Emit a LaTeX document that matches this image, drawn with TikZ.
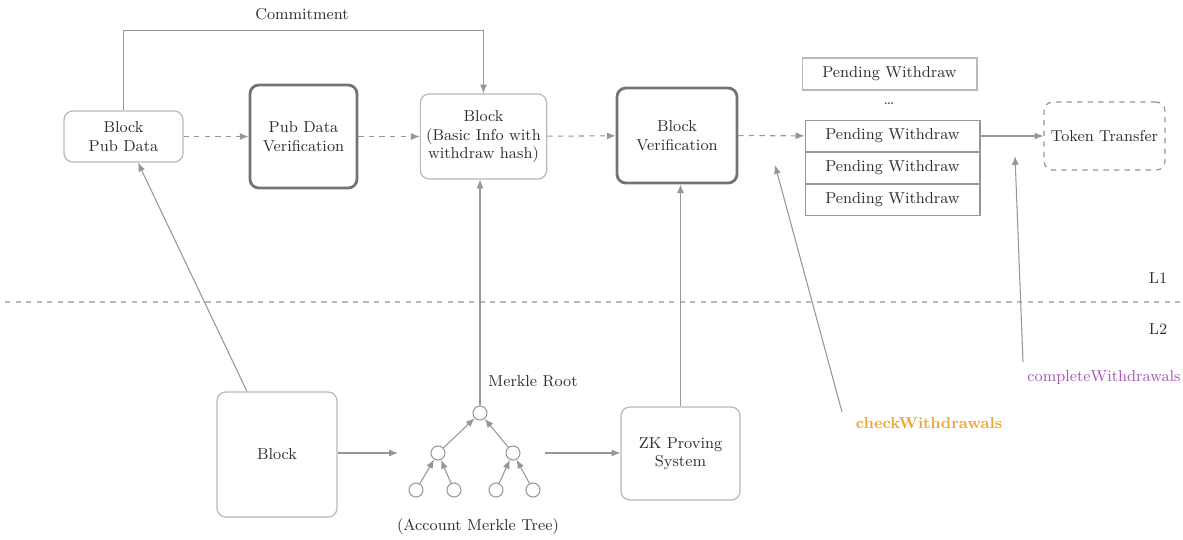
\documentclass[tikz,border=0pt]{standalone}
\usetikzlibrary{arrows.meta,positioning}
\definecolor{linegray}{RGB}{150,150,150}
\definecolor{boxgray}{RGB}{185,185,185}
\definecolor{thickgray}{RGB}{115,115,115}
\definecolor{txtgray}{RGB}{45,45,45}
\definecolor{chkorange}{RGB}{240,165,50}
\definecolor{cmppurple}{RGB}{165,85,180}
\tikzset{
  box/.style={draw=boxgray,rounded corners=5pt,align=center,text=txtgray,line width=0.7pt},
  thickbox/.style={draw=thickgray,rounded corners=5pt,align=center,text=txtgray,line width=1.6pt},
  pwbox/.style={draw=linegray,text=txtgray,minimum width=3.5cm,line width=0.6pt},
  leaf/.style={circle,draw=linegray,fill=white,minimum size=0.28cm,inner sep=0pt,line width=0.6pt},
  arr/.style={->,draw=linegray,line width=0.6pt},
  darr/.style={->,draw=linegray,dashed,line width=0.6pt},
  lbl/.style={text=txtgray}
}
\begin{document}
\begin{tikzpicture}[x=0.02cm,y=-0.02cm,>={Latex[length=5pt,width=4pt]},font=\fontsize{9}{10.5}\selectfont]
\useasboundingbox (0,0) rectangle (1183,539);
% L1 row
\node[box,minimum width=2.38cm,minimum height=1.02cm] (pubdata) at (123.5,136.5) {Block\\Pub Data};
\node[thickbox,minimum width=2.14cm,minimum height=2.06cm] (pdverif) at (303.5,136.5) {Pub Data\\Verification};
\node[box,minimum width=2.42cm,minimum height=1.7cm] (blk) at (483.5,136.5) {Block\\(Basic Info with\\withdraw hash)};
\node[thickbox,minimum width=2.4cm,minimum height=1.9cm] (bverif) at (677,135.5) {Block\\Verification};
\node[pwbox,draw=boxgray,minimum height=0.64cm] (pwtop) at (889.5,74) {Pending Withdraw};
\node[lbl] (dots) at (889,104) {\dots};
\node[pwbox,minimum height=0.62cm] (pw1) at (892.5,136) {Pending Withdraw};
\node[pwbox,minimum height=0.62cm,below=0pt of pw1] (pw2) {Pending Withdraw};
\node[pwbox,minimum height=0.62cm,below=0pt of pw2] (pw3) {Pending Withdraw};
\node[box,draw=linegray,dashed,minimum width=2.42cm,minimum height=1.36cm] (token) at (1104.5,136) {Token Transfer};
\node[lbl] (commit) at (302,14) {Commitment};
\draw[arr] (pubdata.north) -- ++(0,-80) -| (blk.north);
\draw[darr] (pubdata) -- (pdverif);
\draw[darr] (pdverif) -- (blk);
\draw[darr] (blk) -- (bverif);
\draw[darr] (bverif) -- (pw1);
\draw[arr] (pw1) -- (token);
% layer split
\draw[boxgray,dashed,line width=0.6pt] (5,302) -- (1183,302);
\node[lbl] (lone) at (1158,278) {L1};
\node[lbl] (ltwo) at (1158,329) {L2};
% L2 row
\node[box,minimum width=2.4cm,minimum height=2.5cm] (bblk) at (277,454.5) {Block};
\node[box,minimum width=2.38cm,minimum height=1.86cm] (zk) at (680.5,453.5) {ZK Proving\\System};
\node[leaf] (root) at (480,413) {};
\node[leaf] (ml) at (438,453) {};
\node[leaf] (mr) at (513,453) {};
\foreach \n/\x/\p in {la/416/ml,lb/454/ml,lc/496/mr,ld/533/mr}
{
    \node[leaf] (\n) at (\x,490) {};
    \draw[arr] (\n) -- (\p);
}
\draw[arr] (ml) -- (root);
\draw[arr] (mr) -- (root);
\node[lbl] (mroot) at (533,381) {Merkle Root};
\node[lbl] (tree) at (478,527) {(Account Merkle Tree)};
\coordinate (treein) at (398,453);
\coordinate (treeout) at (545,453);
\draw[arr] (bblk.east |- treein) -- (treein);
\draw[arr] (treeout) -- (treeout -| zk.west);
\draw[arr] ([xshift=-0.6cm]bblk.north) -- ([xshift=0.29cm]pubdata.south);
\draw[arr] (root) -- (root |- blk.south);
\draw[arr] (zk.north) -- (zk.north |- bverif.south);
% contract calls
\node[text=chkorange,font=\fontsize{9}{10.5}\selectfont\bfseries] (chk) at (929,423) {checkWithdrawals};
\node[text=cmppurple] (cmp) at (1104,378) {completeWithdrawals};
\coordinate (chkfrom) at (842,412);
\coordinate (chkto) at (775,165);
\coordinate (cmpfrom) at (1023,362);
\coordinate (cmpto) at (1015,156);
\draw[arr] (chkfrom) -- (chkto);
\draw[arr] (cmpfrom) -- (cmpto);
\end{tikzpicture}
\end{document}
